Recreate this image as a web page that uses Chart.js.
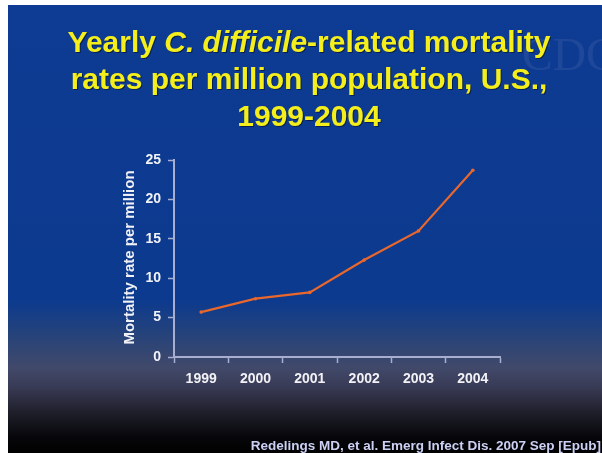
<!DOCTYPE html>
<html>
<head>
<meta charset="utf-8">
<script src="https://cdn.jsdelivr.net/npm/chart.js@4"></script>
<style>
  html, body { margin: 0; padding: 0; background: #ffffff; }
  #c { display: block; }
</style>
</head>
<body>
<canvas id="c" width="602" height="453"></canvas>
<script>
// Yearly C. difficile-related mortality per million population, U.S.
const years = ['1999', '2000', '2001', '2002', '2003', '2004'];
const mortalityRate = [5.7, 7.4, 8.2, 12.3, 16.0, 23.7];
const yMin = 0, yMax = 25, yStep = 5;

const titleLines = [
  [['Yearly ', false], ['C. difficile', true], ['-related mortality', false]],
  [['rates per million population, U.S.,', false]],
  [['1999-2004', false]]
];
const yAxisTitle = 'Mortality rate per million';
const sourceNote = 'Redelings MD, et al. Emerg Infect Dis. 2007 Sep [Epub]';

const FONT = '"Liberation Sans", Arial, Helvetica, sans-serif';
const AXIS_COLOR = '#a7aed0';
const LABEL_COLOR = '#f2f2f6';

// Slide background: white margin, blue panel fading to black at the bottom
const slideBackground = {
  id: 'slideBackground',
  beforeDraw(chart) {
    const ctx = chart.ctx;
    const W = chart.width, H = chart.height;
    ctx.save();
    ctx.fillStyle = '#ffffff';
    ctx.fillRect(0, 0, W, H);
    const x0 = 8, y0 = 5;
    const g = ctx.createLinearGradient(0, y0, 0, H);
    const stop = y => (y - y0) / (H - y0);
    g.addColorStop(0, '#0e3b93');
    g.addColorStop(stop(300), '#0c3a8e');
    g.addColorStop(stop(335), '#26437a');
    g.addColorStop(stop(368), '#41496a');
    g.addColorStop(stop(388), '#383a54');
    g.addColorStop(stop(412), '#1f1f2b');
    g.addColorStop(stop(436), '#08080c');
    g.addColorStop(1, '#000000');
    ctx.fillStyle = g;
    ctx.fillRect(x0, y0, W - x0, H - y0);

    // faint watermark in the upper right
    ctx.globalAlpha = 0.07;
    ctx.fillStyle = '#ffffff';
    ctx.font = '46px "Liberation Serif", serif';
    ctx.textAlign = 'left';
    ctx.textBaseline = 'alphabetic';
    ctx.fillText('CDC', 522, 70);
    ctx.restore();
  }
};

// Title, rotated y-axis title and source note
const slideText = {
  id: 'slideText',
  afterDraw(chart) {
    const ctx = chart.ctx;
    ctx.save();

    // title lines, centred, with italic species name
    const size = 30;
    const centerX = 309;
    const baselines = [52, 89, 126];
    ctx.fillStyle = '#f4ef1c';
    ctx.textBaseline = 'alphabetic';
    ctx.textAlign = 'left';
    ctx.shadowColor = 'rgba(0,0,0,0.45)';
    ctx.shadowOffsetX = 1;
    ctx.shadowOffsetY = 1;
    titleLines.forEach((segs, i) => {
      let total = 0;
      const widths = segs.map(([t, it]) => {
        ctx.font = (it ? 'italic ' : '') + 'bold ' + size + 'px ' + FONT;
        const w = ctx.measureText(t).width;
        total += w;
        return w;
      });
      let x = centerX - total / 2;
      segs.forEach(([t, it], k) => {
        ctx.font = (it ? 'italic ' : '') + 'bold ' + size + 'px ' + FONT;
        ctx.fillText(t, x, baselines[i]);
        x += widths[k];
      });
    });
    ctx.shadowColor = 'transparent';

    // y-axis title
    const area = chart.chartArea;
    ctx.save();
    ctx.translate(130, (area.top + area.bottom) / 2 - 1);
    ctx.rotate(-Math.PI / 2);
    ctx.font = 'bold 15px ' + FONT;
    ctx.fillStyle = LABEL_COLOR;
    ctx.textAlign = 'center';
    ctx.textBaseline = 'middle';
    ctx.fillText(yAxisTitle, 0, 0);
    ctx.restore();

    // source note, bottom right
    ctx.font = 'bold 13.5px ' + FONT;
    ctx.fillStyle = '#ccd0f4';
    ctx.textAlign = 'right';
    ctx.textBaseline = 'alphabetic';
    ctx.fillText(sourceNote, 601, 450);
    ctx.restore();
  }
};

new Chart(document.getElementById('c'), {
  type: 'line',
  data: {
    labels: years,
    datasets: [{
      data: mortalityRate,
      borderColor: '#e8672c',
      backgroundColor: '#e8672c',
      borderWidth: 2.2,
      pointRadius: 1.8,
      pointHoverRadius: 1.8,
      pointBorderWidth: 0,
      tension: 0,
      fill: false
    }]
  },
  options: {
    responsive: false,
    animation: false,
    devicePixelRatio: 1,
    layout: { padding: { left: 0, top: 160, right: 102, bottom: 0 } },
    plugins: {
      legend: { display: false },
      title: { display: false },
      tooltip: { enabled: false }
    },
    scales: {
      x: {
        type: 'category',
        offset: true,
        afterFit(scale) { scale.height = 96; },
        grid: {
          display: true,
          offset: true,
          drawOnChartArea: false,
          drawTicks: true,
          tickLength: 6,
          tickWidth: 1.5,
          tickColor: AXIS_COLOR,
          color: AXIS_COLOR
        },
        border: { display: true, color: AXIS_COLOR, width: 2 },
        ticks: {
          color: LABEL_COLOR,
          font: { family: FONT, size: 14, weight: 'bold' },
          padding: 8,
          maxRotation: 0
        }
      },
      y: {
        min: yMin,
        max: yMax,
        afterFit(scale) { scale.width = 174; },
        grid: {
          display: true,
          drawOnChartArea: false,
          drawTicks: true,
          tickLength: 6,
          tickWidth: 1.5,
          tickColor: AXIS_COLOR,
          color: AXIS_COLOR
        },
        border: { display: true, color: AXIS_COLOR, width: 2 },
        ticks: {
          stepSize: yStep,
          color: LABEL_COLOR,
          font: { family: FONT, size: 14, weight: 'bold' },
          padding: 7
        }
      }
    }
  },
  plugins: [slideBackground, slideText]
});
</script>
</body>
</html>
